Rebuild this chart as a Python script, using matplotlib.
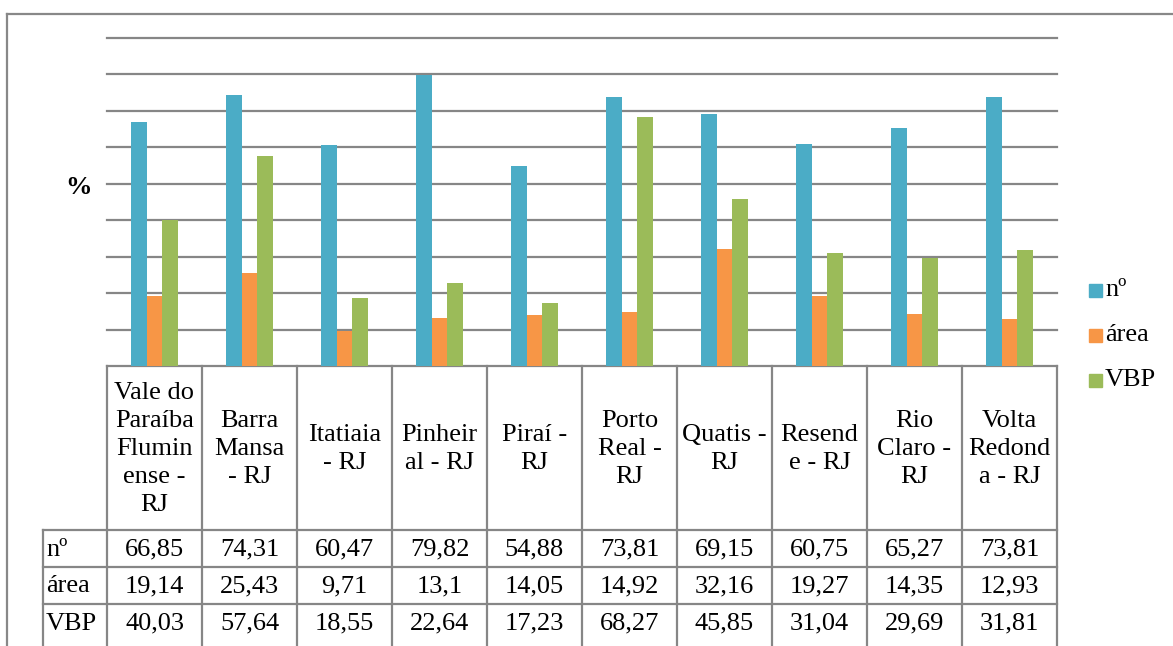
import matplotlib
matplotlib.use("Agg")
import matplotlib.pyplot as plt
from matplotlib.patches import Rectangle
import numpy as np

categories = ["Vale do\nParaíba\nFlumin\nense -\nRJ", "Barra\nMansa\n- RJ", "Itatiaia\n- RJ",
              "Pinheir\nal - RJ", "Piraí -\nRJ", "Porto\nReal -\nRJ", "Quatis -\nRJ",
              "Resend\ne - RJ", "Rio\nClaro -\nRJ", "Volta\nRedond\na - RJ"]
series_names = ["nº", "área", "VBP"]
n_vals = [66.85, 74.31, 60.47, 79.82, 54.88, 73.81, 69.15, 60.75, 65.27, 73.81]
area_vals = [19.14, 25.43, 9.71, 13.1, 14.05, 14.92, 32.16, 19.27, 14.35, 12.93]
vbp_vals = [40.03, 57.64, 18.55, 22.64, 17.23, 68.27, 45.85, 31.04, 29.69, 31.81]
colors = ["#4BACC6", "#F79646", "#9BBB59"]

plt.rcParams['font.family'] = ['Liberation Serif', 'DejaVu Serif']
W, H = 1173, 646
fig = plt.figure(figsize=(W/100, H/100), dpi=100)

# overlay in pixel coordinates
ov = fig.add_axes([0, 0, 1, 1])
ov.set_xlim(0, W); ov.set_ylim(H, 0); ov.axis('off')

L, R, T, B = 107, 1057, 37.6, 366
ax = fig.add_axes([L/W, 1-B/H, (R-L)/W, (B-T)/H])
ax.set_xlim(-0.5, 9.5); ax.set_ylim(0, 90)
gc = "#868686"
for yv in range(10, 91, 10):
    ax.axhline(yv, color=gc, lw=1.6, zorder=0, clip_on=False)
for s in ax.spines.values():
    s.set_visible(False)
ax.set_xticks([]); ax.set_yticks([])
ax.patch.set_alpha(0)

x = np.arange(len(categories))
w = 0.168
all_series = [n_vals, area_vals, vbp_vals]
for i, (vals, c) in enumerate(zip(all_series, colors)):
    ax.bar(x + (i-1)*w, vals, width=w, color=c, zorder=2)

lc = "#868686"
lw = 1.6
FS = 19
colw = (R-L)/len(categories)
hdr_b = 530
row_h = 37
rows_y = [hdr_b + row_h*k for k in range(3)]  # 530,567,604
bottom = 660
# horizontal lines
ov.plot([L, R], [B, B], color=lc, lw=lw)
for yy in rows_y:
    ov.plot([43, R], [yy, yy], color=lc, lw=lw)
# vertical lines
for k in range(len(categories)+1):
    xx = L + k*colw
    ov.plot([xx, xx], [B, bottom], color=lc, lw=lw)
ov.plot([43, 43], [hdr_b, bottom], color=lc, lw=lw)

for k, lab in enumerate(categories):
    cx = L + (k+0.5)*colw
    ov.text(cx, (B+hdr_b)/2+1, lab, ha='center', va='center', multialignment='center',
            fontsize=FS, linespacing=1.36)
    for r, vals in enumerate(all_series):
        s = format(vals[k], 'g').replace('.', ',')
        ov.text(cx, rows_y[r] + row_h/2 + 1, s, ha='center', va='center', fontsize=FS)
for r, name in enumerate(series_names):
    ov.text(46, rows_y[r] + row_h/2 + 1, name, ha='left', va='center', fontsize=FS)

# % label
ov.text(78, 188, "%", ha='center', va='center', fontsize=FS, fontweight='bold')

# legend
for i, (name, c) in enumerate(zip(series_names, colors)):
    yc = 290 + i*45
    ov.add_patch(Rectangle((1089, yc-6.5), 13, 13, color=c))
    ov.text(1105, yc, name, ha='left', va='center', fontsize=FS)

# outer border
ov.plot([6.5, W+5], [13.5, 13.5], color="#888888", lw=1.6)
ov.plot([6.5, 6.5], [13.5, H+5], color="#888888", lw=1.6)

fig.savefig("out.png", dpi=100)
